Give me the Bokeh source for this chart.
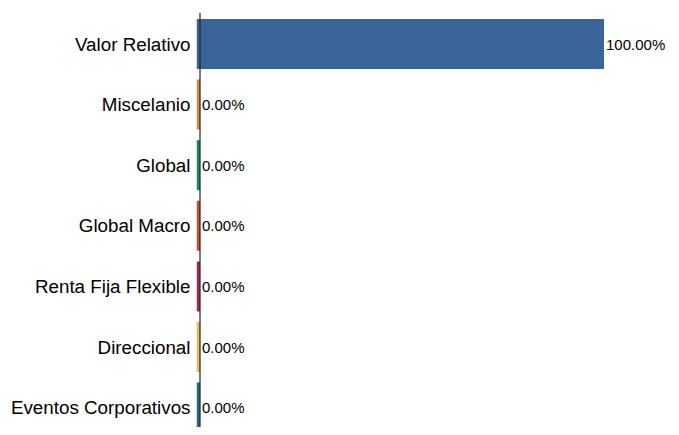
from bokeh.plotting import figure
from bokeh.models import Range1d, Span, ColumnDataSource, FixedTicker
from bokeh.core.properties import value
from bokeh.embed import file_html
from bokeh.resources import INLINE

categories = ["Valor Relativo", "Miscelanio", "Global", "Global Macro",
              "Renta Fija Flexible", "Direccional", "Eventos Corporativos"]
values = [100.0, 0.0, 0.0, 0.0, 0.0, 0.0, 0.0]
labels = ["100.00%", "0.00%", "0.00%", "0.00%", "0.00%", "0.00%", "0.00%"]
colors = ["#3a6599", "#d38a44", "#1b8a6c", "#c1532b", "#9a2c5e", "#e3bb5a", "#2b6b84"]

W, H = 671, 427
px_per_unit = 4.04          # horizontal scale (pixels per percent)
min_bar_px = 3.5            # visible width for zero bars
pad = min_bar_px / px_per_unit
frame_left, frame_top = 196, 12
frame_w = W - frame_left
frame_h = H - frame_top
band_px = 60.6
first_center_px = 31.5      # from frame top

ys = list(range(len(categories)))
src = ColumnDataSource(dict(
    y=ys, right=values, left=[-pad] * len(values), color=colors, label=labels,
))

x_end = (frame_w - min_bar_px) / px_per_unit
y_top = -first_center_px / band_px
y_bot = y_top + frame_h / band_px

p = figure(width=W, height=H, output_backend="svg", toolbar_location=None,
           x_range=Range1d(-pad, x_end), y_range=Range1d(y_bot, y_top),
           min_border_left=frame_left, min_border_right=0,
           min_border_top=frame_top, min_border_bottom=0)

p.hbar(y="y", left="left", right="right", height=50 / band_px,
       fill_color="color", line_color=None, source=src)

p.add_layout(Span(location=0, dimension="height", line_color="#222222", line_width=1.2))

p.text(x="right", y="y", text="label", source=src, x_offset=2,
       text_baseline="middle", text_align="left",
       text_font=value("Liberation Sans"), text_font_size="15px",
       text_color="#000000")

p.xaxis.visible = False
p.xgrid.visible = False
p.ygrid.visible = False
p.outline_line_color = None

ax = p.yaxis[0]
ax.ticker = FixedTicker(ticks=ys)
ax.major_label_overrides = {i: c for i, c in zip(ys, categories)}
ax.axis_line_color = None
ax.major_tick_line_color = None
ax.minor_tick_line_color = None
ax.major_tick_in = 0
ax.major_tick_out = 0
ax.major_label_standoff = 6
ax.major_label_text_font = "Liberation Sans"
ax.major_label_text_font_size = "18.8px"
ax.major_label_text_color = "#000000"

open("out.html", "w").write(file_html(p, INLINE))
